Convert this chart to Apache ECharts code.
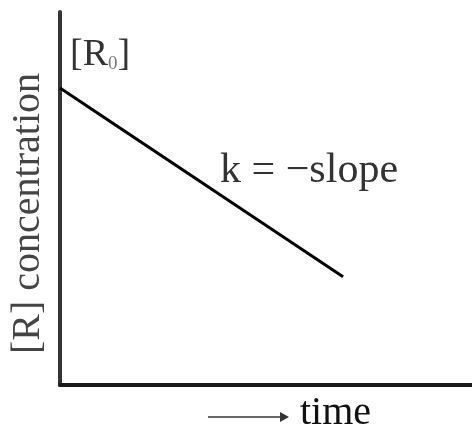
<!DOCTYPE html>
<html><head><meta charset="utf-8">
<script src="https://cdn.jsdelivr.net/npm/echarts@6/dist/echarts.min.js"></script>
<style>html,body{margin:0;padding:0;background:#fff}#c{width:472px;height:428px}</style>
</head><body><div id="c"></div>
<script>
const timeValues = [0, 6.87];
const concentration = [7.96, 2.9];
const yName = '[R] concentration';
const xName = 'time';
const r0Label = '[R{sub|0}]';
const slopeLabel = 'k = \u2212slope';

const font = 'Liberation Serif';
const chart = echarts.init(document.getElementById('c'));
chart.setOption({
  animation: false,
  grid: {left: 60, right: 0, top: 12, bottom: 43, outerBoundsMode: 'none', containLabel: false},
  xAxis: {
    type: 'value', min: 0, max: 10,
    axisLine: {lineStyle: {color: '#1a1a1a', width: 4}},
    axisTick: {show: false}, axisLabel: {show: false}, splitLine: {show: false},
    name: xName, nameLocation: 'middle', nameGap: 8,
    nameTextStyle: {fontFamily: font, fontSize: 40, color: '#111', padding: [0, 0, 0, 139], verticalAlign: 'top'}
  },
  yAxis: {
    type: 'value', min: 0, max: 10,
    axisLine: {lineStyle: {color: '#333', width: 4}},
    axisTick: {show: false}, axisLabel: {show: false}, splitLine: {show: false},
    name: yName, nameLocation: 'middle', nameGap: 12,
    nameTextStyle: {fontFamily: font, fontSize: 40, color: '#444', padding: [0, 30, 0, 0]}
  },
  series: [{
    type: 'line',
    data: timeValues.map((t, i) => [t, concentration[i]]),
    showSymbol: false,
    lineStyle: {color: '#000', width: 3},
    label: {show: false}
  }],
  graphic: [
    {type: 'text', left: 70, top: 36, style: {text: r0Label, fontFamily: font, fontSize: 38, fill: '#333',
      rich: {sub: {fontFamily: font, fontSize: 19, verticalAlign: 'bottom', padding: [15, 0, 0, 0], fill: '#777'}}}},
    {type: 'text', left: 220, top: 150, style: {text: slopeLabel, fontFamily: font, fontSize: 42, fill: '#333'}},
    {type: 'line', shape: {x1: 208, y1: 417, x2: 284, y2: 417}, style: {stroke: '#666', lineWidth: 2}},
    {type: 'polygon', shape: {points: [[280, 412], [289, 417], [280, 422]]}, style: {fill: '#333'}}
  ]
});
</script></body></html>
